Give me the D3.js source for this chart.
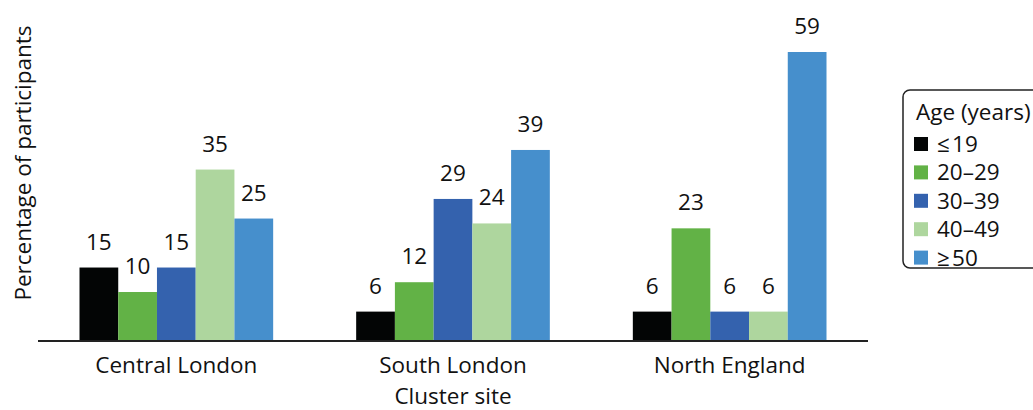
<!DOCTYPE html>
<html>
<head>
<meta charset="utf-8">
<script src="https://cdn.jsdelivr.net/npm/d3@7"></script>
<style>
  body { margin: 0; background: #fff; }
  svg text { font-family: "Open Sans", "Noto Sans", sans-serif; fill: #111; }
</style>
</head>
<body>
<div id="chart"></div>
<script>
"use strict";

// ── Data ──────────────────────────────────────────────────────────────────────
const sites  = ["Central London", "South London", "North England"];
const ages   = ["≤\u200a19", "20–29", "30–39", "40–49", "≥\u200a50"];
const values = [
  [15, 10, 15, 35, 25],   // Central London
  [6, 12, 29, 24, 39],    // South London
  [6, 23, 6, 6, 59]       // North England
];
const colors = ["#030505", "#62b246", "#3462ae", "#aed69e", "#468fcc"];

// ── Layout ────────────────────────────────────────────────────────────────────
const W = 1033, H = 410;
const M = { left: 38, right: 868, top: 52, base: 341 };
const FS = 22.5;

const svg = d3.select("#chart").append("svg")
  .attr("width", W).attr("height", H);

const x0 = d3.scaleBand().domain(sites).range([M.left, M.right])
  .paddingInner(0.3).paddingOuter(0.15);
const x1 = d3.scaleBand().domain(ages).range([0, x0.bandwidth()]);
const y  = d3.scaleLinear().domain([0, 59]).range([M.base, M.top]);
const color = d3.scaleOrdinal().domain(ages).range(colors);

// ── Bars + value labels ──
const groups = svg.selectAll("g.site")
  .data(sites.map((s, i) => ({ site: s, vals: values[i] })))
  .join("g")
  .attr("class", "site")
  .attr("transform", (d) => `translate(${x0(d.site)},0)`);

groups.selectAll("rect")
  .data((d) => d.vals.map((v, j) => ({ age: ages[j], v })))
  .join("rect")
  .attr("x", (d) => x1(d.age))
  .attr("y", (d) => y(d.v))
  .attr("width", x1.bandwidth())
  .attr("height", (d) => y(0) - y(d.v))
  .attr("fill", (d) => color(d.age));

groups.selectAll("text")
  .data((d) => d.vals.map((v, j) => ({ age: ages[j], v })))
  .join("text")
  .attr("x", (d) => x1(d.age) + x1.bandwidth() / 2)
  .attr("y", (d) => y(d.v) - 18)
  .attr("text-anchor", "middle")
  .attr("font-size", FS)
  .text((d) => d.v);

// ── X axis ──
const xAxis = svg.append("g")
  .attr("transform", `translate(0,${M.base})`)
  .call(d3.axisBottom(x0).tickSize(0).tickPadding(16).tickSizeOuter(0));
xAxis.select(".domain").attr("stroke", "#222").attr("stroke-width", 2)
  .attr("d", `M${M.left},0H${M.right}`);
xAxis.selectAll(".tick text").attr("font-size", FS)
  .style("font-family", "'Open Sans', 'Noto Sans', sans-serif").attr("fill", "#111");

svg.append("text")
  .attr("x", x0("South London") + x0.bandwidth() / 2)
  .attr("y", 404)
  .attr("text-anchor", "middle")
  .attr("font-size", FS)
  .text("Cluster site");

svg.append("text")
  .attr("transform", `translate(31,${163}) rotate(-90)`)
  .attr("text-anchor", "middle")
  .attr("font-size", FS)
  .text("Percentage of participants");

// ── Legend ──
const lg = svg.append("g").attr("transform", "translate(903,90)");
lg.append("rect")
  .attr("x", 0).attr("y", 0).attr("width", 150).attr("height", 178)
  .attr("rx", 7).attr("fill", "#fff").attr("stroke", "#222").attr("stroke-width", 1.5);
lg.append("text").attr("x", 13).attr("y", 30).attr("font-size", FS).text("Age (years)");
const items = lg.selectAll("g.item").data(ages).join("g")
  .attr("class", "item")
  .attr("transform", (d, i) => `translate(11,${54 + i * 28.4})`);
items.append("rect").attr("x", 0).attr("y", -7).attr("width", 14).attr("height", 14)
  .attr("fill", (d) => color(d));
items.append("text").attr("x", 23).attr("y", 8).attr("font-size", FS).text((d) => d);
</script>
</body>
</html>
